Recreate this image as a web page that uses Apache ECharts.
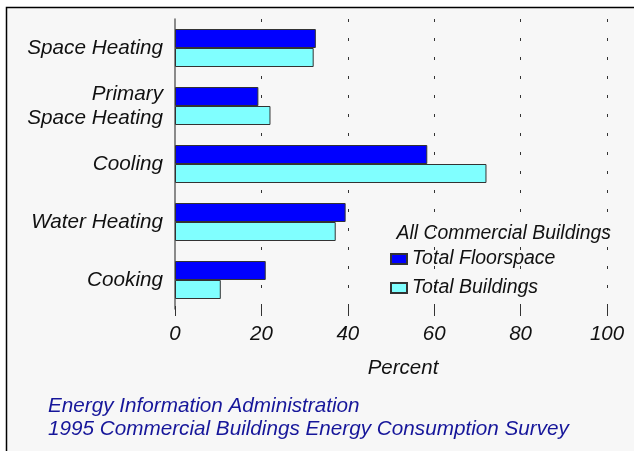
<!DOCTYPE html>
<html>
<head>
<meta charset="utf-8">
<script src="https://cdn.jsdelivr.net/npm/echarts@6/dist/echarts.min.js"></script>
<style>
  html, body { margin: 0; padding: 0; background: #fff; }
  #chart { width: 634px; height: 451px; }
</style>
</head>
<body>
<div id="chart"></div>
<script>
// data
const categories = ['Space Heating', 'Primary\nSpace Heating', 'Cooling', 'Water Heating', 'Cooking']
const floorspace = [32.6, 19.3, 58.4, 39.5, 21.0]
const buildings = [32.1, 22.1, 72.1, 37.2, 10.6]
const xTicks = [0, 20, 40, 60, 80, 100]

const font = 'Liberation Sans, Arial, sans-serif'

const chart = echarts.init(document.getElementById('chart'))

let option = {
  backgroundColor: '#ffffff',
  animation: false,
  graphic: [
    {
      type: 'rect',
      z: -100,
      silent: true,
      shape: {x: 6.5, y: 7.5, width: 700, height: 500},
      style: {fill: '#f7f7f7'}
    },
    {
      type: 'polyline',
      z: -99,
      silent: true,
      shape: {points: [[6.5, 460], [6.5, 7.5], [640, 7.5]]},
      style: {stroke: '#000', lineWidth: 1.5, fill: null}
    }
  ],
  title: [
    {
      text: 'All Commercial Buildings',
      right: 23,
      top: 224,
      padding: 0,
      textStyle: {fontFamily: font, fontSize: 19.4, fontStyle: 'italic', fontWeight: 'normal', color: '#111'}
    },
    {
      text: 'Energy Information Administration\n1995 Commercial Buildings Energy Consumption Survey',
      left: 48,
      top: 395,
      padding: 0,
      textStyle: {fontFamily: font, fontSize: 20.7, fontStyle: 'italic', fontWeight: 'normal', color: '#16169a', lineHeight: 23}
    }
  ],
  legend: {
    orient: 'vertical',
    left: 390,
    top: 249,
    padding: 0,
    itemGap: 9,
    itemWidth: 16,
    itemHeight: 10,
    icon: 'rect',
    textStyle: {fontFamily: font, fontSize: 19.5, fontStyle: 'italic', color: '#111', padding: [0, 0, 0, 0]},
    data: ['Total Floorspace', 'Total Buildings']
  },
  grid: {
    left: 175,
    right: 27,
    top: 19,
    height: 290
  },
  xAxis: {
    type: 'value',
    min: xTicks[0],
    max: xTicks[xTicks.length - 1],
    interval: 20,
    offset: -3,
    name: 'Percent',
    nameLocation: 'middle',
    nameGap: 52,
    nameTextStyle: {fontFamily: font, fontSize: 20.5, fontStyle: 'italic', color: '#111', padding: [0, 0, 0, 24]},
    axisLine: {show: false},
    axisTick: {show: true, length: 10, lineStyle: {color: '#333'}},
    axisLabel: {fontFamily: font, fontSize: 20.5, fontStyle: 'italic', color: '#111', margin: 18},
    splitLine: {
      show: true,
      showMinLine: false,
      lineStyle: {color: '#333', width: 1, type: [3, 16], dashOffset: 0}
    }
  },
  yAxis: {
    type: 'category',
    inverse: true,
    data: categories,
    axisLine: {show: true, lineStyle: {color: '#666', width: 1.5}},
    axisTick: {show: false},
    axisLabel: {
      fontFamily: font, fontSize: 20.7, fontStyle: 'italic', color: '#111',
      margin: 12, lineHeight: 24, align: 'right'
    }
  },
  series: [
    {
      name: 'Total Floorspace',
      type: 'bar',
      data: floorspace,
      barWidth: 19,
      barGap: 0,
      itemStyle: {color: '#0000ff', borderColor: '#333', borderWidth: 1}
    },
    {
      name: 'Total Buildings',
      type: 'bar',
      data: buildings,
      barWidth: 19,
      barGap: 0,
      itemStyle: {color: '#80ffff', borderColor: '#333', borderWidth: 1}
    }
  ]
}
chart.setOption(option)
</script>
</body>
</html>
